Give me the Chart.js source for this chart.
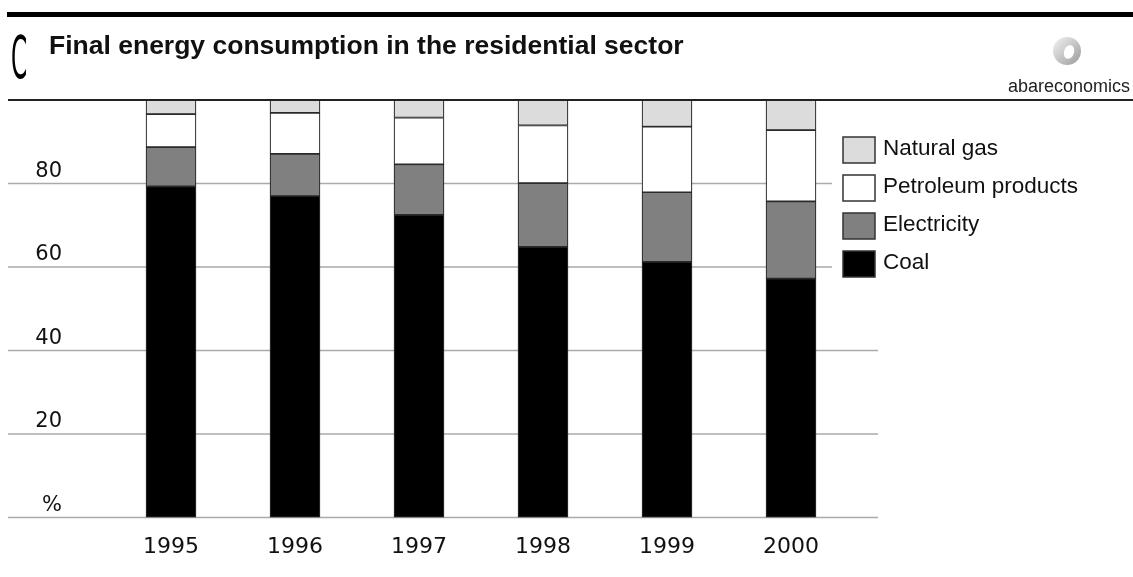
<!DOCTYPE html>
<html>
<head>
<meta charset="utf-8">
<title>Final energy consumption in the residential sector</title>
<script src="https://cdn.jsdelivr.net/npm/chart.js@4.4.1/dist/chart.umd.min.js"></script>
<style>
  html, body { margin: 0; padding: 0; background: #fff; }
  #chart-wrap { width: 1133px; height: 577px; }
</style>
</head>
<body>
<div id="chart-wrap"><canvas id="chart-1" width="1133" height="577"></canvas></div>
<script>
const years = ['1995', '1996', '1997', '1998', '1999', '2000'];
const coal = [79.3, 77.0, 72.5, 64.8, 61.2, 57.2];
const electricity = [9.4, 10.1, 12.1, 15.3, 16.7, 18.5];
const petroleum = [7.9, 9.8, 11.2, 13.8, 15.7, 17.1];
const naturalGas = [3.4, 3.1, 4.2, 6.1, 6.4, 7.2];
const gridValues = [0, 20, 40, 60, 80];

const TITLE = 'Final energy consumption in the residential sector';
const SOURCE = 'abareconomics';
const TEXT_COLOR = '#111111';
const EDGE_COLOR = '#2a2a2a';

const seriesConfigs = [
  { label: 'Coal', data: coal, color: '#000000' },
  { label: 'Electricity', data: electricity, color: '#808080' },
  { label: 'Petroleum products', data: petroleum, color: '#ffffff' },
  { label: 'Natural gas', data: naturalGas, color: '#dcdcdc' }
];

// grey rules behind the bars, running past the plot on both sides
const gridPlugin = {
  id: 'gridLines',
  beforeDatasetsDraw(chart) {
    const { ctx, scales: { y } } = chart;
    ctx.save();
    ctx.strokeStyle = '#aaaaaa';
    ctx.lineWidth = 1.5;
    gridValues.forEach(v => {
      const py = y.getPixelForValue(v);
      ctx.beginPath();
      ctx.moveTo(8, py);
      ctx.lineTo(878, py);
      ctx.stroke();
    });
    ctx.restore();
  },
  afterDatasetsDraw(chart) {
    const { ctx, scales: { y } } = chart;
    const py = y.getPixelForValue(100);
    ctx.save();
    ctx.strokeStyle = '#222222';
    ctx.lineWidth = 2;
    ctx.beginPath();
    ctx.moveTo(8, py);
    ctx.lineTo(1133, py);
    ctx.stroke();
    ctx.restore();
  }
};

const legendPlugin = {
  id: 'sideLegend',
  afterDatasetsDraw(chart) {
    const { ctx } = chart;
    const items = chart.data.datasets.slice().reverse();
    ctx.save();
    ctx.fillStyle = '#ffffff';
    ctx.fillRect(832, 128, 301, 160);
    ctx.font = '22.5px "Liberation Sans", Arial, sans-serif';
    ctx.textBaseline = 'middle';
    ctx.textAlign = 'left';
    items.forEach((ds, i) => {
      const top = 137 + i * 38;
      ctx.fillStyle = ds.backgroundColor;
      ctx.fillRect(843, top, 32, 26);
      ctx.strokeStyle = '#333333';
      ctx.lineWidth = 1.5;
      ctx.strokeRect(843, top, 32, 26);
      ctx.fillStyle = TEXT_COLOR;
      ctx.fillText(ds.label, 883, top + 12);
    });
    ctx.restore();
  }
};

const headerPlugin = {
  id: 'header',
  afterDraw(chart) {
    const { ctx } = chart;
    ctx.save();
    ctx.fillStyle = '#000000';
    ctx.fillRect(7, 12, 1126, 5);

    // tall narrow panel letter
    ctx.save();
    ctx.translate(11, 78);
    ctx.scale(0.4, 1);
    ctx.font = '58px "DejaVu Sans", sans-serif';
    ctx.textBaseline = 'alphabetic';
    ctx.fillText('C', 0, 0);
    ctx.restore();

    ctx.fillStyle = TEXT_COLOR;
    ctx.font = 'bold 26.5px "Liberation Sans", Arial, sans-serif';
    ctx.textBaseline = 'alphabetic';
    ctx.textAlign = 'left';
    ctx.fillText(TITLE, 49, 54);

    // logo ring
    const g = ctx.createLinearGradient(1053, 38, 1081, 65);
    g.addColorStop(0, '#f2f2f2');
    g.addColorStop(1, '#9a9a9a');
    ctx.fillStyle = g;
    ctx.beginPath();
    ctx.ellipse(1067, 51, 14, 14, 0, 0, Math.PI * 2);
    ctx.fill();
    ctx.fillStyle = '#ffffff';
    ctx.beginPath();
    ctx.ellipse(1069, 52, 5, 7, 0.3, 0, Math.PI * 2);
    ctx.fill();

    ctx.fillStyle = '#222222';
    ctx.font = '18px "Liberation Sans", Arial, sans-serif';
    ctx.textAlign = 'right';
    ctx.fillText(SOURCE, 1130, 92);
    ctx.restore();
  }
};

function createChartConfig() {
  return {
    type: 'bar',
    data: {
      labels: years,
      datasets: seriesConfigs.map(({ label, data, color }) => ({
        label,
        data,
        backgroundColor: color,
        borderColor: EDGE_COLOR,
        borderWidth: 1.2,
        borderSkipped: false,
        barThickness: 50
      }))
    },
    options: {
      responsive: false,
      animation: false,
      devicePixelRatio: 1,
      layout: { padding: { top: 100, right: 280, left: 0, bottom: 0 } },
      plugins: {
        legend: { display: false },
        tooltip: { enabled: false }
      },
      scales: {
        x: {
          stacked: true,
          grid: { display: false, drawTicks: false },
          border: { display: false },
          ticks: {
            color: TEXT_COLOR,
            padding: 17,
            font: { family: 'DejaVu Sans', size: 22 }
          },
          afterFit: scale => { scale.height = 56; }
        },
        y: {
          stacked: true,
          min: 0,
          max: 100,
          grid: { display: false, drawTicks: false },
          border: { display: false },
          ticks: {
            stepSize: 20,
            color: TEXT_COLOR,
            padding: 47,
            labelOffset: -12,
            font: { family: 'DejaVu Sans', size: 21 },
            callback: v => (v === 0 ? '%' : v === 100 ? '' : v)
          },
          afterFit: scale => { scale.width = 109; }
        }
      }
    },
    plugins: [gridPlugin, legendPlugin, headerPlugin]
  };
}

const chart = new Chart(document.getElementById('chart-1').getContext('2d'), createChartConfig());
</script>
</body>
</html>
